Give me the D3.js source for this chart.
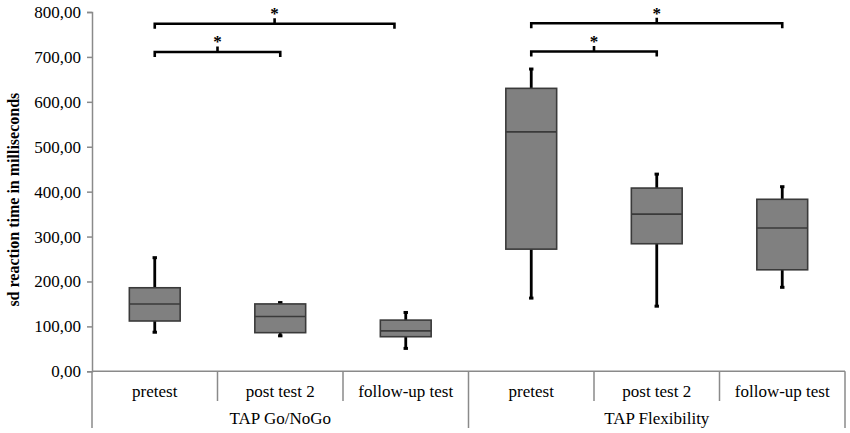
<!DOCTYPE html>
<html>
<head>
<meta charset="utf-8">
<script src="https://cdn.jsdelivr.net/npm/d3@7"></script>
<style>
  html, body { margin: 0; padding: 0; background: #fff; }
  svg { display: block; }
  text { font-family: "Liberation Serif", "Times New Roman", serif; fill: #000; }
</style>
</head>
<body>
<svg id="chart" width="850" height="433"></svg>
<script>
// ---- data ----
const groups = ["TAP Go/NoGo", "TAP Flexibility"];
const categories = ["pretest", "post test 2", "follow-up test", "pretest", "post test 2", "follow-up test"];
const whiskerLow  = [87, 79, 51, 163, 145, 187];
const boxLow      = [112, 86, 77, 272, 284, 226];
const medians     = [150, 122, 90, 533, 350, 319];
const boxHigh     = [186, 150, 114, 630, 408, 383];
const whiskerHigh = [253, 153, 131, 673, 439, 411];
const yTicks = [0, 100, 200, 300, 400, 500, 600, 700, 800];
// significance brackets: from / to category index, level in ms, end shift (fraction of band)
const bracketFrom  = [0, 0, 3, 3];
const bracketTo    = [1, 2, 4, 5];
const bracketLevel = [711, 774, 712, 775];
const bracketShift = [0, -0.09, 0, 0];
const bracketLabel = ["*", "*", "*", "*"];

// ---- layout ----
const svg = d3.select("#chart");
const mLeft = 92, mRight = 845, mTop = 12, mBottom = 371.3;
const x = d3.scaleBand().domain(d3.range(categories.length)).range([mLeft, mRight]).padding(0);
const y = d3.scaleLinear().domain([0, 800]).range([mBottom, mTop]);
const axisColor = "#8a8a8a";
const fmt = d3.formatLocale({decimal: ",", thousands: ".", grouping: [3], currency: ["", ""]}).format(".2f");

// y axis
const yAxis = svg.append("g").attr("transform", `translate(${mLeft},0)`)
  .call(d3.axisLeft(y).tickValues(yTicks).tickSize(5).tickPadding(6).tickFormat(fmt));
yAxis.select(".domain").attr("stroke", axisColor).attr("stroke-width", 1.5);
yAxis.selectAll(".tick line").attr("stroke", axisColor).attr("stroke-width", 1.5);
yAxis.selectAll(".tick text").attr("font-size", 17).attr("font-family", "Liberation Serif, serif").attr("fill", "#000");

// y title
svg.append("text")
  .attr("transform", `translate(19,${(y(800)+y(0))/2 + 8}) rotate(-90)`)
  .attr("text-anchor", "middle")
  .attr("font-size", 16).attr("font-weight", "bold")
  .text("sd reaction time in milliseconds");

// x axis baseline
svg.append("line").attr("x1", mLeft).attr("x2", mRight).attr("y1", mBottom).attr("y2", mBottom)
  .attr("stroke", axisColor).attr("stroke-width", 1.5);

// category separators
const bw = x.bandwidth();
d3.range(categories.length + 1).forEach(i => {
  const xx = mLeft + i * bw;
  const full = (i % 3 === 0);
  svg.append("line").attr("x1", xx).attr("x2", xx)
    .attr("y1", mBottom).attr("y2", full ? 428 : 401)
    .attr("stroke", axisColor).attr("stroke-width", 1.5);
});

// category labels
svg.append("g").selectAll("text").data(categories).join("text")
  .attr("x", (d, i) => x(i) + bw / 2)
  .attr("y", 397)
  .attr("text-anchor", "middle")
  .attr("font-size", 17)
  .text(d => d);

// group labels
svg.append("g").selectAll("text").data(groups).join("text")
  .attr("x", (d, i) => x(i * 3) + bw * 1.5)
  .attr("y", 424)
  .attr("text-anchor", "middle")
  .attr("font-size", 17)
  .text(d => d);

// boxes
const boxW = bw * 0.405;
const boxes = svg.append("g").selectAll("g").data(categories).join("g");
boxes.append("line")
  .attr("x1", (d, i) => x(i) + bw / 2).attr("x2", (d, i) => x(i) + bw / 2)
  .attr("y1", (d, i) => y(whiskerLow[i])).attr("y2", (d, i) => y(whiskerHigh[i]))
  .attr("stroke", "#000").attr("stroke-width", 2.8);
boxes.append("rect")
  .attr("x", (d, i) => x(i) + bw / 2 - 2.2).attr("width", 4.4)
  .attr("y", (d, i) => y(whiskerHigh[i]) - 1.5).attr("height", 3)
  .attr("fill", "#000");
boxes.append("rect")
  .attr("x", (d, i) => x(i) + bw / 2 - 2.2).attr("width", 4.4)
  .attr("y", (d, i) => y(whiskerLow[i]) - 1.5).attr("height", 3)
  .attr("fill", "#000");
boxes.append("rect")
  .attr("x", (d, i) => x(i) + bw / 2 - boxW / 2).attr("width", boxW)
  .attr("y", (d, i) => y(boxHigh[i])).attr("height", (d, i) => y(boxLow[i]) - y(boxHigh[i]))
  .attr("fill", "#808080").attr("stroke", "#3a3a3a").attr("stroke-width", 1.6);
boxes.append("line")
  .attr("x1", (d, i) => x(i) + bw / 2 - boxW / 2).attr("x2", (d, i) => x(i) + bw / 2 + boxW / 2)
  .attr("y1", (d, i) => y(medians[i])).attr("y2", (d, i) => y(medians[i]))
  .attr("stroke", "#3a3a3a").attr("stroke-width", 1.6);

// significance brackets
const br = svg.append("g");
bracketFrom.forEach((f, k) => {
  const x1 = x(f) + bw / 2;
  const x2 = x(bracketTo[k]) + bw / 2 + bracketShift[k] * bw;
  const yy = y(bracketLevel[k]);
  const xm = (x1 + x2) / 2;
  br.append("path")
    .attr("d", `M${x1},${yy + 5}V${yy}H${x2}V${yy + 5}M${xm},${yy}V${yy - 5.5}`)
    .attr("fill", "none").attr("stroke", "#000").attr("stroke-width", 2.6);
  br.append("text").attr("x", xm).attr("y", yy - 4.5)
    .attr("text-anchor", "middle").attr("font-size", 17).attr("font-weight", "bold")
    .text(bracketLabel[k]);
});
</script>
</body>
</html>
